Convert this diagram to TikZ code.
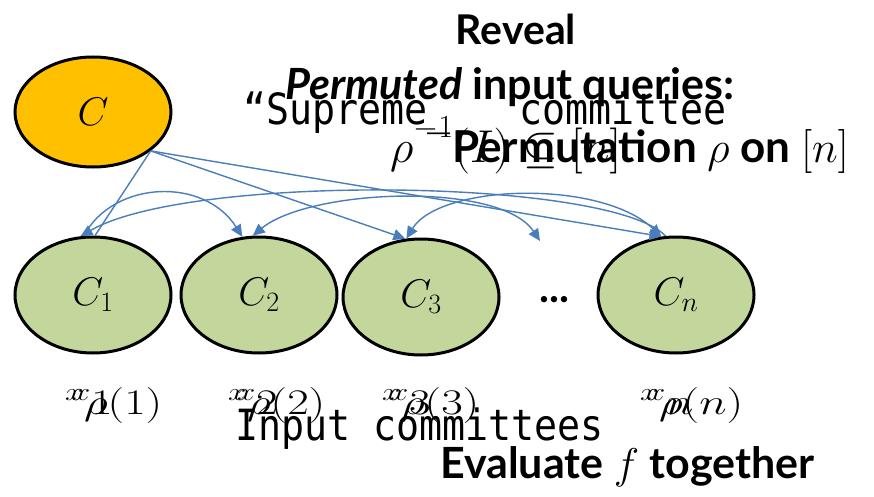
\RequirePackage{fix-cm}
\documentclass[tikz,border=0pt]{standalone}
\usepackage{fontspec}
\usepackage{graphicx}
\usetikzlibrary{shapes.geometric,arrows.meta}
\newfontfamily\gillfont{Lato}
\newfontfamily\mymono{DejaVu Sans Mono}[FakeStretch=0.89]
\definecolor{orng}{HTML}{FFC000}
\definecolor{grn}{HTML}{C3D69B}
\definecolor{arw}{HTML}{4A7EBB}
\tikzset{
  party/.style={ellipse, draw=black, line width=3pt, minimum width=156pt, minimum height=116pt, inner sep=0pt, font=\fontsize{40}{40}\selectfont},
  conn/.style={draw=arw, line width=1.4pt},
  onehead/.style={-{Triangle[length=12pt,width=11pt]}},
  twohead/.style={{Triangle[length=12pt,width=11pt]}-{Triangle[length=12pt,width=11pt]}},
  gilltext/.style={font=\gillfont\bfseries, inner sep=0pt, anchor=base west},
  monotext/.style={font=\mymono\fontsize{43}{43}\selectfont, inner sep=0pt, anchor=base west},
  mathtext/.style={font=\fontsize{46}{46}\selectfont, inner sep=0pt, anchor=base west},
  xlab/.style={font=\fontsize{36}{36}\selectfont, inner sep=0pt, anchor=base west}
}
\newcommand{\wide}[1]{\scalebox{1.3}[1]{#1}}
\begin{document}
\begin{tikzpicture}[x=1pt,y=-1pt]
\fill[white] (0,0) rectangle (874,497);
\useasboundingbox (0,0) rectangle (874,497);
% parties
\node[party, fill=orng, minimum height=110pt] (C) at (93,112) {$C$};
\node[party, fill=grn] (c1) at (93,295) {$C_1$};
\node[party, fill=grn] (c2) at (259,295) {$C_2$};
\node[party, fill=grn] (c3) at (421,297) {$C_3$};
\node[party, fill=grn] (cn) at (676,295) {$C_n$};
\node[font=\gillfont\bfseries\fontsize{42}{42}\selectfont, inner sep=0pt, anchor=base west] (dots) at (539,302) {...};
\coordinate (dq) at (540,241);
% texts
\node[gilltext, anchor=base, font=\gillfont\bfseries\fontsize{41}{41}\selectfont] (reveal) at (516,45) {Reveal};
\node[gilltext, font=\gillfont\bfseries\fontsize{43}{43}\selectfont] (perm) at (285,100) {\textit{Permuted} input queries:};
\node[monotext] (sup) at (243,125) {“Supreme\_\hphantom{1”} committee};
\node[mathtext] (rinv) at (390,163) {$\rho^{\raisebox{0.2em}{$\scriptstyle -1$}}(I)\subseteq[n]$};
\node[gilltext, font=\gillfont\bfseries\fontsize{44}{44}\selectfont] (permu) at (452,163) {Permutation $\rho$ on $[n]$};
\node[monotext] (inp) at (235,440) {Input committees};
\node[gilltext, font=\gillfont\bfseries\fontsize{43}{43}\selectfont] (evalf) at (440,478) {Evaluate $f$ together};
% input labels
\node[xlab] (l1) at (65,414) {\wide{${}^{x}\rho(1)$}};
\node[xlab] (l1b) at (72,414) {\wide{${}^{x}1$}};
\node[xlab] (l2) at (228,414) {\wide{${}^{x}\rho(2)$}};
\node[xlab] (l2b) at (237,414) {\wide{${}^{x}2$}};
\node[xlab] (l3) at (382,414) {\wide{${}^{x}\rho(3)$}};
\node[xlab] (l3b) at (390,414) {\wide{${}^{x}3$}};
\node[xlab] (ln) at (640,414) {\wide{${}^{x}\rho(n)$}};
\node[xlab] (lnb) at (647,414) {\wide{${}^{x}n$}};
% connectors from C
\draw[conn] (C.-34) -- (c1.88);
\draw[conn,onehead] (C.-34) -- (c3.105);
\draw[conn,onehead] (C.-34) -- (cn.104);
% permutation arcs
\draw[conn,onehead] (c1.99) .. controls +(30,-56) and +(-38,-60) .. (c2.106);
\draw[conn,onehead] (cn.100) .. controls +(-56,-58) and +(109,-63) .. (c1.102);
\draw[conn,twohead] (c2.96) .. controls +(57,-47) and +(-40,-60) .. (dq);
\draw[conn,twohead] (c3.104) .. controls +(33,-54) and +(-62,-58) .. (cn.104);
\end{tikzpicture}
\end{document}
